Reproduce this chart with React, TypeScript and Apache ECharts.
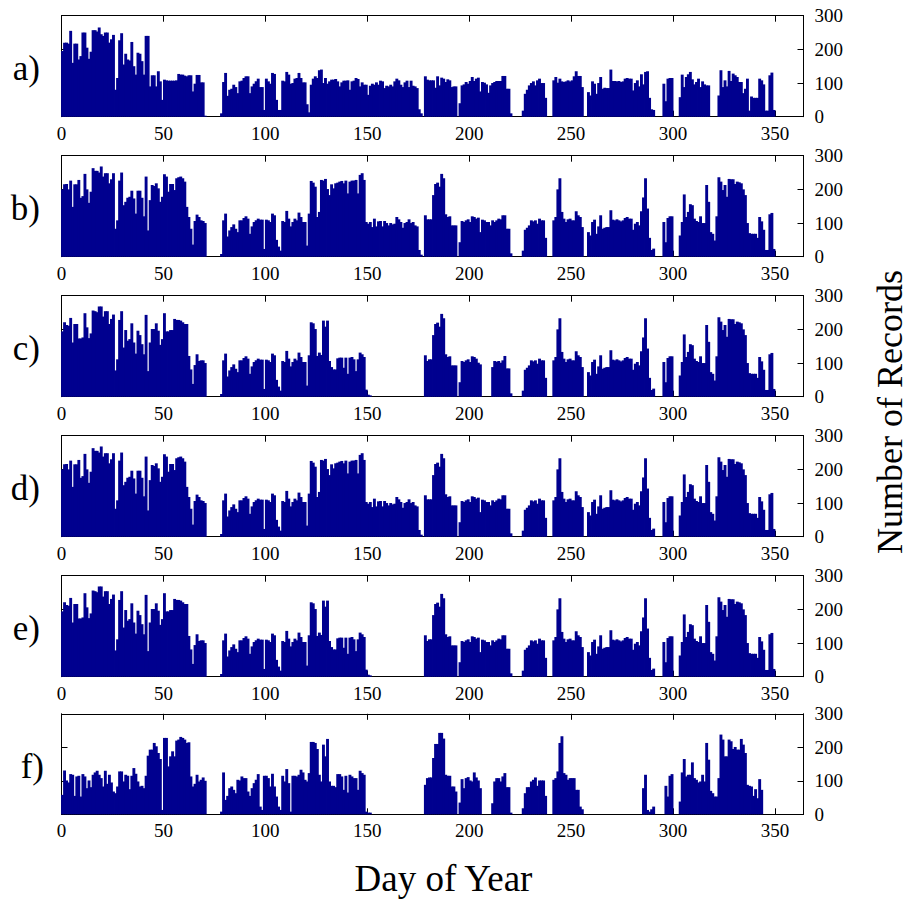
import { useEffect, useRef } from "react";
import * as echarts from "echarts";

// Tick positions
const dayTicks = [0, 50, 100, 150, 200, 250, 300, 350];
const countTicks = [0, 100, 200, 300];
const panelLabels = ["a)", "b)", "c)", "d)", "e)", "f)"];

// Daily record counts, day 0 .. 363, one row of ten days per line
const countsA = [
  195, 220, 220, 217, 255, 160, 217, 217, 170, 180,
  250, 250, 205, 172, 193, 257, 257, 253, 265, 245,
  240, 250, 250, 220, 230, 243, 80, 115, 227, 248,
  155, 187, 170, 167, 222, 150, 125, 190, 187, 165,
  125, 240, 240, 90, 123, 123, 90, 135, 105, 50,
  110, 108, 107, 107, 107, 107, 108, 127, 125, 125,
  122, 120, 123, 123, 75, 98, 124, 124, 102, 102,
  3, 0, 0, 0, 0, 0, 0, 0, 10, 103,
  130, 62, 80, 83, 95, 88, 70, 105, 107, 115,
  120, 120, 70, 90, 98, 105, 113, 88, 88, 20,
  113, 105, 98, 130, 127, 50, 20, 20, 107, 105,
  133, 125, 98, 100, 113, 115, 130, 115, 102, 102,
  37, 13, 95, 113, 120, 115, 138, 140, 100, 115,
  98, 105, 110, 110, 112, 105, 90, 102, 107, 107,
  108, 80, 105, 107, 115, 112, 90, 102, 95, 95,
  65, 92, 98, 95, 102, 95, 107, 105, 85, 92,
  90, 95, 90, 105, 113, 108, 95, 88, 102, 107,
  88, 107, 92, 90, 85, 22, 10, 0, 120, 110,
  108, 108, 108, 86, 120, 93, 116, 113, 103, 111,
  108, 88, 90, 90, 0, 40, 93, 96, 103, 98,
  106, 118, 106, 113, 116, 75, 103, 101, 96, 71,
  93, 100, 103, 106, 106, 106, 121, 121, 83, 83,
  10, 0, 0, 0, 0, 0, 18, 68, 80, 93,
  100, 105, 93, 108, 113, 100, 100, 56, 0, 0,
  0, 108, 118, 101, 113, 105, 103, 105, 108, 105,
  108, 120, 135, 121, 121, 88, 0, 0, 73, 63,
  105, 98, 68, 100, 118, 83, 86, 85, 85, 140,
  106, 106, 105, 106, 103, 105, 113, 115, 113, 113,
  78, 100, 108, 90, 126, 96, 133, 135, 56, 22,
  20, 0, 0, 0, 0, 98, 46, 113, 115, 115,
  0, 0, 0, 58, 125, 88, 118, 126, 133, 111,
  96, 103, 113, 88, 105, 96, 93, 93, 0, 0,
  0, 0, 63, 138, 88, 108, 90, 136, 106, 128,
  123, 118, 103, 103, 70, 83, 113, 18, 60, 56,
  56, 56, 113, 108, 96, 18, 18, 123, 131, 20,
  0, 0, 0, 0, 0, 0, 0, 0, 0, 0,
  0, 0, 0, 0,
];

const countsB = [
  200, 215, 216, 200, 226, 148, 215, 215, 228, 175,
  180, 246, 200, 160, 193, 263, 255, 255, 250, 268,
  238, 248, 248, 218, 230, 248, 83, 108, 226, 250,
  153, 163, 175, 178, 196, 173, 128, 196, 196, 175,
  120, 238, 78, 168, 213, 210, 218, 203, 163, 178,
  245, 238, 193, 216, 216, 198, 233, 236, 238, 233,
  223, 148, 118, 83, 36, 106, 125, 118, 108, 106,
  100, 0, 0, 0, 0, 0, 0, 0, 8, 108,
  128, 60, 78, 88, 96, 83, 73, 108, 108, 115,
  120, 113, 68, 90, 103, 108, 113, 110, 110, 23,
  110, 108, 103, 128, 123, 50, 30, 18, 106, 103,
  136, 113, 90, 103, 113, 108, 131, 118, 103, 103,
  33, 128, 225, 220, 208, 118, 133, 228, 226, 231,
  201, 183, 215, 203, 218, 220, 223, 225, 218, 226,
  188, 223, 226, 226, 228, 188, 243, 248, 228, 103,
  98, 103, 88, 113, 90, 105, 106, 90, 106, 100,
  93, 100, 96, 98, 118, 111, 103, 86, 100, 103,
  111, 100, 103, 93, 90, 20, 6, 0, 123, 111,
  111, 111, 183, 216, 220, 208, 246, 233, 126, 118,
  120, 93, 93, 93, 0, 43, 106, 103, 108, 111,
  103, 120, 118, 113, 116, 73, 110, 108, 103, 103,
  93, 108, 103, 108, 113, 111, 123, 123, 83, 83,
  10, 0, 0, 0, 0, 0, 18, 80, 86, 93,
  108, 105, 108, 98, 113, 108, 108, 56, 0, 0,
  0, 108, 118, 200, 233, 133, 113, 103, 111, 113,
  108, 108, 135, 123, 118, 88, 0, 0, 73, 63,
  103, 110, 68, 90, 123, 83, 86, 88, 88, 138,
  110, 108, 111, 108, 105, 108, 115, 118, 113, 113,
  80, 98, 103, 93, 135, 176, 233, 143, 56, 20,
  24, 0, 0, 0, 0, 103, 43, 115, 120, 120,
  0, 0, 0, 63, 103, 185, 118, 133, 156, 153,
  113, 106, 103, 120, 100, 100, 213, 163, 73, 68,
  48, 120, 236, 223, 198, 213, 178, 231, 230, 230,
  216, 223, 221, 218, 200, 183, 100, 70, 68, 68,
  68, 56, 118, 105, 80, 20, 20, 126, 130, 23,
  0, 0, 0, 0, 0, 0, 0, 0, 0, 0,
  0, 0, 0, 0,
];

// Panel c: days 0-219 of its own, the rest equal to panel b
const countsCHead = [
  194, 221, 213, 211, 234, 161, 216, 216, 173, 173,
  176, 248, 206, 174, 188, 256, 254, 251, 268, 268,
  238, 254, 254, 216, 231, 244, 78, 111, 228, 254,
  146, 198, 166, 171, 218, 161, 128, 196, 183, 156,
  126, 243, 76, 161, 201, 201, 218, 196, 154, 171,
  248, 194, 194, 198, 198, 231, 228, 228, 226, 221,
  216, 216, 121, 81, 38, 94, 126, 106, 108, 108,
  100, 0, 0, 0, 0, 0, 0, 0, 8, 108,
  128, 60, 78, 88, 96, 83, 73, 108, 108, 115,
  120, 113, 68, 90, 103, 108, 113, 110, 110, 23,
  110, 108, 103, 128, 123, 50, 30, 18, 106, 103,
  136, 113, 90, 103, 113, 108, 131, 118, 103, 103,
  33, 123, 221, 218, 201, 121, 131, 124, 226, 208,
  226, 106, 88, 81, 81, 114, 116, 116, 86, 116,
  68, 116, 118, 111, 76, 111, 131, 126, 118, 21,
  6, 4, 0, 0, 0, 0, 0, 0, 0, 0,
  0, 0, 0, 0, 0, 0, 0, 0, 0, 0,
  0, 0, 0, 0, 0, 0, 0, 0, 123, 106,
  111, 111, 183, 216, 220, 208, 246, 233, 126, 118,
  120, 93, 93, 93, 0, 43, 106, 103, 108, 111,
  103, 120, 118, 113, 101, 96, 0, 0, 0, 0,
  0, 88, 106, 104, 106, 101, 108, 121, 84, 84,
];
const countsC = [...countsCHead, ...countsB.slice(220)];

// Panel d carries the same daily counts as panel b
const countsD = [...countsB];

// Panel e: the first 180 days follow panel c, the rest panel b
const countsE = [...countsC.slice(0, 180), ...countsB.slice(180)];

const countsF = [
  58, 131, 101, 95, 120, 118, 55, 113, 115, 53,
  120, 113, 78, 101, 81, 118, 125, 130, 118, 108,
  83, 130, 91, 118, 95, 68, 63, 83, 128, 128,
  98, 118, 115, 75, 115, 138, 121, 98, 83, 85,
  78, 115, 175, 193, 193, 213, 203, 183, 165, 13,
  228, 228, 143, 173, 188, 173, 220, 223, 231, 228,
  223, 213, 215, 113, 83, 91, 118, 98, 103, 110,
  100, 0, 0, 0, 0, 0, 0, 0, 8, 125,
  43, 55, 78, 83, 73, 63, 103, 101, 113, 108,
  108, 68, 55, 78, 93, 103, 120, 23, 13, 115,
  115, 108, 83, 121, 83, 53, 23, 13, 115, 98,
  135, 93, 8, 115, 115, 113, 118, 133, 125, 103,
  98, 123, 216, 216, 213, 195, 118, 98, 208, 173,
  225, 98, 85, 85, 81, 120, 120, 113, 73, 115,
  65, 118, 113, 108, 108, 73, 130, 123, 118, 8,
  5, 5, 0, 0, 0, 0, 0, 0, 0, 0,
  0, 0, 0, 0, 0, 0, 0, 0, 0, 0,
  0, 0, 0, 0, 0, 0, 0, 0, 88, 108,
  110, 110, 168, 210, 210, 243, 243, 226, 118, 115,
  115, 83, 83, 68, 0, 35, 105, 78, 108, 111,
  101, 98, 125, 110, 101, 78, 0, 0, 0, 0,
  0, 33, 98, 108, 108, 98, 113, 123, 81, 81,
  5, 0, 0, 0, 0, 0, 18, 63, 81, 81,
  98, 103, 110, 85, 101, 101, 101, 55, 0, 0,
  0, 103, 108, 128, 213, 233, 123, 118, 103, 108,
  108, 108, 73, 73, 23, 15, 0, 0, 0, 0,
  0, 0, 0, 0, 0, 0, 0, 0, 0, 0,
  0, 0, 0, 0, 0, 0, 0, 0, 0, 0,
  0, 0, 0, 0, 0, 78, 118, 13, 8, 15,
  23, 0, 0, 0, 0, 0, 85, 53, 115, 120,
  0, 0, 0, 38, 125, 165, 113, 118, 118, 155,
  108, 103, 95, 98, 118, 98, 213, 163, 70, 63,
  53, 53, 108, 238, 223, 173, 173, 223, 218, 195,
  201, 193, 193, 225, 208, 183, 88, 85, 83, 55,
  75, 48, 105, 73, 0, 0, 0, 0, 0, 0,
  0, 0, 0, 0, 0, 0, 0, 0, 0, 0,
  0, 0, 0, 0,
];

const WIDTH = 911;
const HEIGHT = 901;
const PLOT_LEFT = 61.5;
const PLOT_WIDTH = 742;
const PANEL_TOPS = [15.7, 155.7, 295.7, 435.7, 575.7, 713.8];
const PANEL_HEIGHTS = [101, 101, 101, 101, 101, 100.5];
const LABEL_RIGHT = [40, 40, 40, 40, 40, 44];
const DAY_MAX = 364;
const BAR_COLOR = "#00008F";
const SERIF = "'Liberation Serif', 'Times New Roman', Times, serif";

export default function App() {
  const ref = useRef<HTMLDivElement>(null);

  useEffect(() => {
    if (!ref.current) return;
    const chart = echarts.init(ref.current, null, { renderer: "svg" });
    const panels = [countsA, countsB, countsC, countsD, countsE, countsF];

    const grid: any[] = [];
    const xAxis: any[] = [];
    const yAxis: any[] = [];
    const series: any[] = [];
    const graphic: any[] = [];

    const axisLine = { show: true, onZero: false, lineStyle: { color: "#000", width: 1 } };
    const axisTick = { show: true, inside: true, length: 6, lineStyle: { color: "#000", width: 1 } };
    const labelFont = { fontFamily: SERIF, fontSize: 19, color: "#000" };

    panels.forEach((counts, i) => {
      grid.push({
        left: PLOT_LEFT,
        top: PANEL_TOPS[i],
        width: PLOT_WIDTH,
        height: PANEL_HEIGHTS[i],
        containLabel: false,
      });
      xAxis.push({
        gridIndex: i,
        type: "value",
        position: "bottom",
        min: 0,
        max: DAY_MAX,
        interval: 50,
        axisLine,
        axisTick,
        splitLine: { show: false },
        axisLabel: {
          ...labelFont,
          margin: 7,
          formatter: (v: number) => (dayTicks.includes(v) ? String(v) : ""),
        },
      });
      xAxis.push({
        gridIndex: i,
        type: "value",
        position: "top",
        min: 0,
        max: DAY_MAX,
        interval: 50,
        axisLine,
        axisTick,
        splitLine: { show: false },
        axisLabel: { show: false },
      });
      yAxis.push({
        gridIndex: i,
        type: "value",
        position: "right",
        min: 0,
        max: 300,
        interval: 100,
        axisLine,
        axisTick,
        splitLine: { show: false },
        axisLabel: {
          ...labelFont,
          margin: 11,
          formatter: (v: number) => (countTicks.includes(v) ? String(v) : ""),
        },
      });
      yAxis.push({
        gridIndex: i,
        type: "value",
        position: "left",
        min: 0,
        max: 300,
        interval: 100,
        axisLine,
        axisTick,
        splitLine: { show: false },
        axisLabel: { show: false },
      });
      series.push({
        type: "bar",
        xAxisIndex: i * 2,
        yAxisIndex: i * 2,
        data: counts.map((v, d) => [d + 0.5, v]),
        barWidth: 2.9,
        itemStyle: { color: BAR_COLOR },
        silent: true,
      });
      graphic.push({
        type: "text",
        x: LABEL_RIGHT[i],
        y: PANEL_TOPS[i] + PANEL_HEIGHTS[i] / 2 + 2,
        style: {
          text: panelLabels[i],
          font: `35px ${SERIF}`,
          fill: "#000",
          textAlign: "right",
          textVerticalAlign: "middle",
        },
      });
    });

    graphic.push({
      type: "text",
      x: 443.5,
      y: 878,
      style: {
        text: "Day of Year",
        font: `37px ${SERIF}`,
        fill: "#000",
        textAlign: "center",
        textVerticalAlign: "middle",
      },
    });
    graphic.push({
      type: "text",
      x: 890,
      y: 412,
      rotation: Math.PI / 2,
      style: {
        text: "Number of Records",
        font: `36px ${SERIF}`,
        lineHeight: 36,
        fill: "#000",
        textAlign: "center",
        textVerticalAlign: "middle",
      },
    });

    chart.setOption({
      animation: false,
      backgroundColor: "#fff",
      grid,
      xAxis,
      yAxis,
      series,
      graphic,
    });

    return () => chart.dispose();
  }, []);

  return (
    <div
      ref={ref}
      style={{ position: "fixed", left: 0, top: 0, width: WIDTH, height: HEIGHT, background: "#fff" }}
    />
  );
}
